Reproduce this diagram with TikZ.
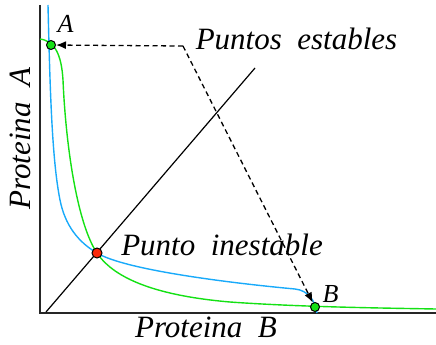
\documentclass[tikz,border=0pt]{standalone}
\usepackage{fontspec}
\setmainfont{Liberation Serif}
\usepackage{tikz}
\definecolor{curveblue}{RGB}{25, 170, 250}
\definecolor{curvegreen}{RGB}{20, 225, 20}
\definecolor{pointred}{RGB}{250, 40, 10}
\usetikzlibrary{arrows.meta, positioning, calc}

\begin{document}
\begin{tikzpicture}[x=1pt, y=-1pt,
    axis/.style={line width=1.3pt, black!85},
    nullcline/.style={draw=#1, line width=1.4pt},
    fixpoint/.style={circle, draw=black, line width=1pt, fill=#1, inner sep=0pt, minimum size=9pt},
    label/.style={font=\fontsize{31}{31}\selectfont\itshape, inner sep=0pt, anchor=base},
    pointlabel/.style={font=\fontsize{26}{26}\selectfont\itshape, inner sep=0pt, anchor=base},
    pointer/.style={line width=1.3pt, dash pattern=on 5pt off 3.5pt, -{Latex[length=10pt, width=8pt]}}
]
    \useasboundingbox (0,0) rectangle (436,345);

    % axes
    \coordinate (top) at (40,5);
    \coordinate (origin) at (40,313);
    \coordinate (right) at (436,313);
    \draw[axis] (top) -- (origin) -- (right);

    % diagonal
    \coordinate (diagstart) at (46,312);
    \coordinate (diagend) at (255,68);
    \draw[line width=1.2pt] (diagstart) -- (diagend);

    % nullclines
    \draw[nullcline=curveblue] (48,5) .. controls (50,90) and (52,160) .. (60,200)
        .. controls (65,225) and (78,242) .. (97,253)
        .. controls (125,270) and (230,283) .. (295,289)
        .. controls (308,290.5) and (315,300) .. (317,313);
    \draw[nullcline=curvegreen] (40,39) .. controls (55,41) and (61.5,55) .. (63,80)
        .. controls (66,150) and (78,225) .. (97,253)
        .. controls (115,280) and (160,296) .. (230,302)
        .. controls (300,307) and (380,308) .. (436,309);

    % fixed points
    \node[fixpoint=curvegreen] (pA) at (51,45) {};
    \node[fixpoint=curvegreen] (pB) at (315,307) {};
    \node[fixpoint=pointred, minimum size=10pt] (pU) at (97,253) {};

    % labels
    \node[pointlabel] (lA) at (65.5,33) {A};
    \node[pointlabel] (lB) at (330.5,302) {B};
    \node[label] (stable) at (296.5,50) {Puntos\ \ estables};
    \node[label] (unstable) at (222,255) {Punto\ \ inestable};
    \node[label] (xlabel) at (206,337) {Proteina\ \ B};
    \node[label, rotate=90] (ylabel) at (30,138.5) {Proteina\ \ A};

    % arrows
    \coordinate (split) at (183,46);
    \draw[pointer] (split) -- (pA);
    \draw[pointer] (split) -- (pB);
\end{tikzpicture}
\end{document}
